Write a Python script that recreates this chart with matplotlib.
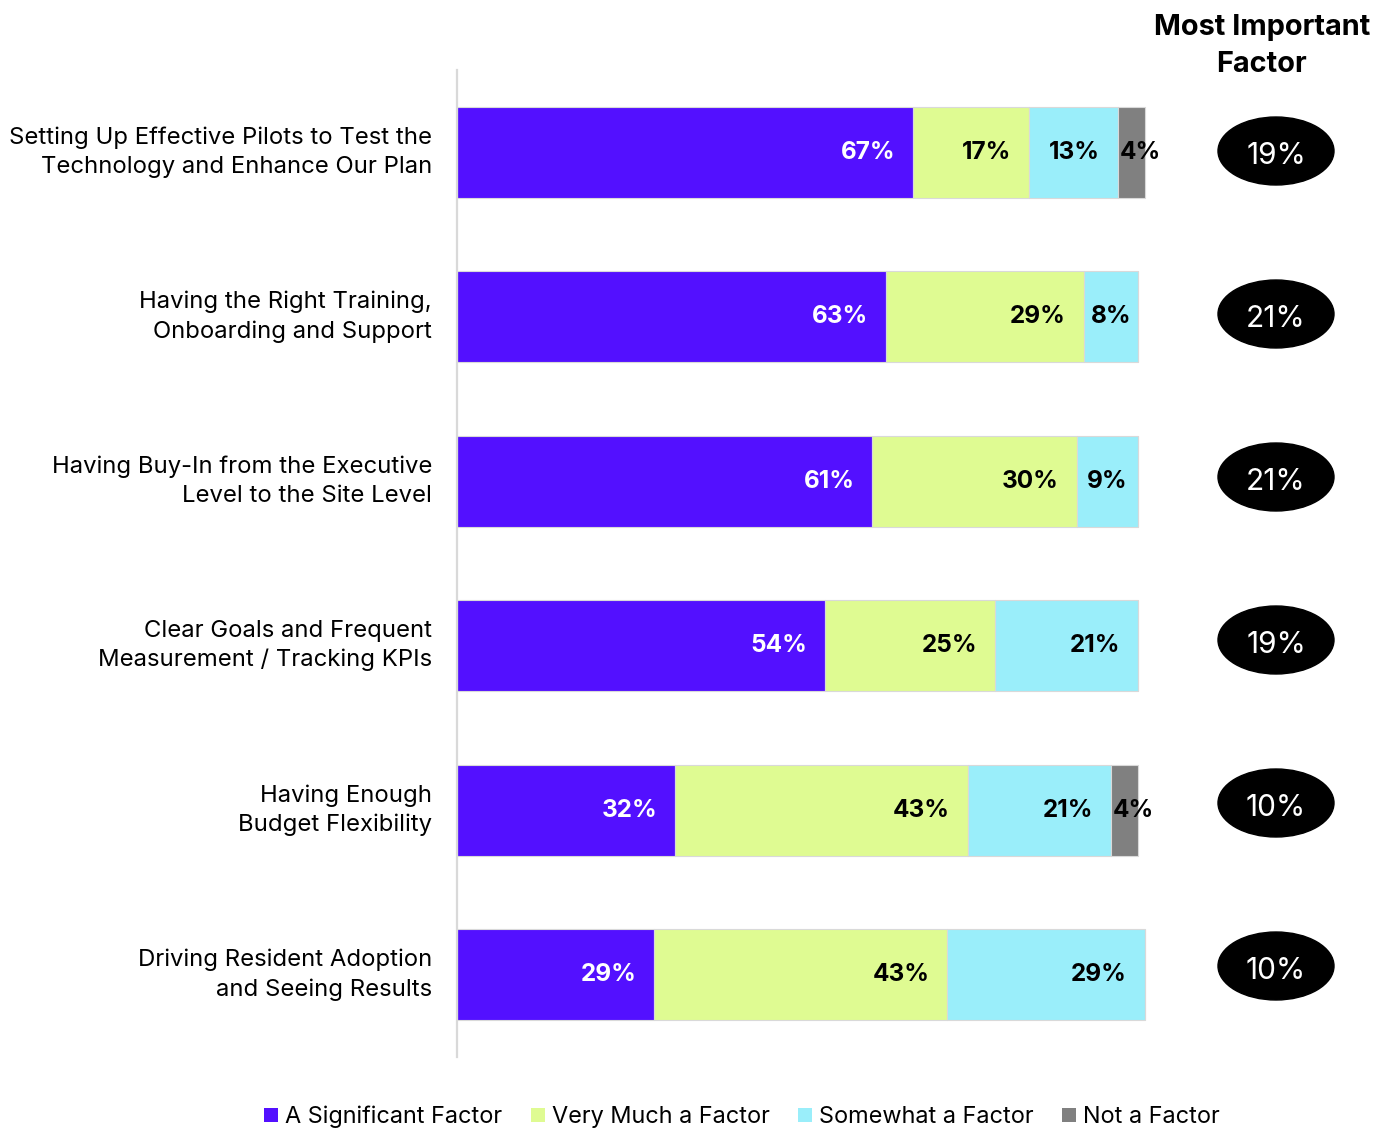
import matplotlib
matplotlib.use("Agg")
import matplotlib.pyplot as plt
from matplotlib.patches import Ellipse, Patch

plt.rcParams['font.family'] = ['Inter', 'DejaVu Sans']

categories = [
    "Setting Up Effective Pilots to Test the\nTechnology and Enhance Our Plan",
    "Having the Right Training,\nOnboarding and Support",
    "Having Buy-In from the Executive\nLevel to the Site Level",
    "Clear Goals and Frequent\nMeasurement / Tracking KPIs",
    "Having Enough\nBudget Flexibility",
    "Driving Resident Adoption\nand Seeing Results",
]
series_names = ["A Significant Factor", "Very Much a Factor",
                "Somewhat a Factor", "Not a Factor"]
significant = [67, 63, 61, 54, 32, 29]
very_much = [17, 29, 30, 25, 43, 43]
somewhat = [13, 8, 9, 21, 21, 29]
not_factor = [4, 0, 0, 0, 4, 0]
most_important = [19, 21, 21, 19, 10, 10]

colors = ["#5310FF", "#DFFB92", "#9AEEFA", "#808080"]
text_colors = ["white", "black", "black", "black"]

W, H = 1385, 1129
fig = plt.figure(figsize=(W / 100, H / 100), dpi=100)

# main bar axes: x from 457px (0%) to 1138px (100%)
x0, x100 = 457, 1138
ppu = (x100 - x0) / 100.0
right_px = W
ax = fig.add_axes([x0 / W, 1 - 1057 / H, (right_px - x0) / W, (1057 - 70) / H])
ax.set_xlim(0, (right_px - x0) / ppu)
ax.set_ylim(5.5, -0.5)

series = [significant, very_much, somewhat, not_factor]
ypos = list(range(len(categories)))
left = [0] * len(categories)
for s_idx, vals in enumerate(series):
    ax.barh(ypos, vals, left=left, height=0.555, color=colors[s_idx],
            edgecolor="#d9d9d9", linewidth=0.8)
    for i, v in enumerate(vals):
        if v <= 0:
            continue
        start, end = left[i], left[i] + v
        if v <= 5:
            x, ha = start + 0.3, "left"
        elif v <= 10:
            x, ha = (start + end) / 2, "center"
        else:
            x, ha = end - 2.6, "right"
        ax.text(x, i, f"{v}%", ha=ha, va="center", fontsize=17.5,
                fontweight="bold", color=text_colors[s_idx])
    left = [l + v for l, v in zip(left, vals)]

ax.set_yticks(ypos)
ax.set_yticklabels(categories, fontsize=17.2, linespacing=1.38, ha="right")
for lbl in ax.get_yticklabels():
    lbl.set_va("center")
ax.tick_params(axis="y", length=0, pad=18)
ax.set_xticks([])
for side in ["top", "right", "bottom"]:
    ax.spines[side].set_visible(False)
ax.spines["left"].set_color("#d9d9d9")
ax.spines["left"].set_linewidth(1.6)

# overlay in pixel coordinates for the side column
ov = fig.add_axes([0, 0, 1, 1])
ov.set_xlim(0, W)
ov.set_ylim(H, 0)
ov.axis("off")
ov.text(1262, 46, "Most Important\nFactor", ha="center", va="center",
        fontsize=20.8, fontweight="bold", linespacing=1.45)
for i, v in enumerate(most_important):
    cy = 151 + i * 163
    ov.add_patch(Ellipse((1276, cy), 116, 68, color="black"))
    ov.text(1276, cy + 2, f"{v}%", ha="center", va="center_baseline",
            fontsize=21.5, color="white")

handles = [Patch(facecolor=c, edgecolor="none") for c in colors]
fig.legend(handles, series_names, loc="center", ncol=4,
           bbox_to_anchor=(742 / W, 1 - 1117 / H), frameon=False,
           fontsize=16.9, handlelength=0.6, handleheight=0.6,
           handletextpad=0.3, columnspacing=1.2, borderaxespad=0)

fig.savefig("out.png", dpi=100)
